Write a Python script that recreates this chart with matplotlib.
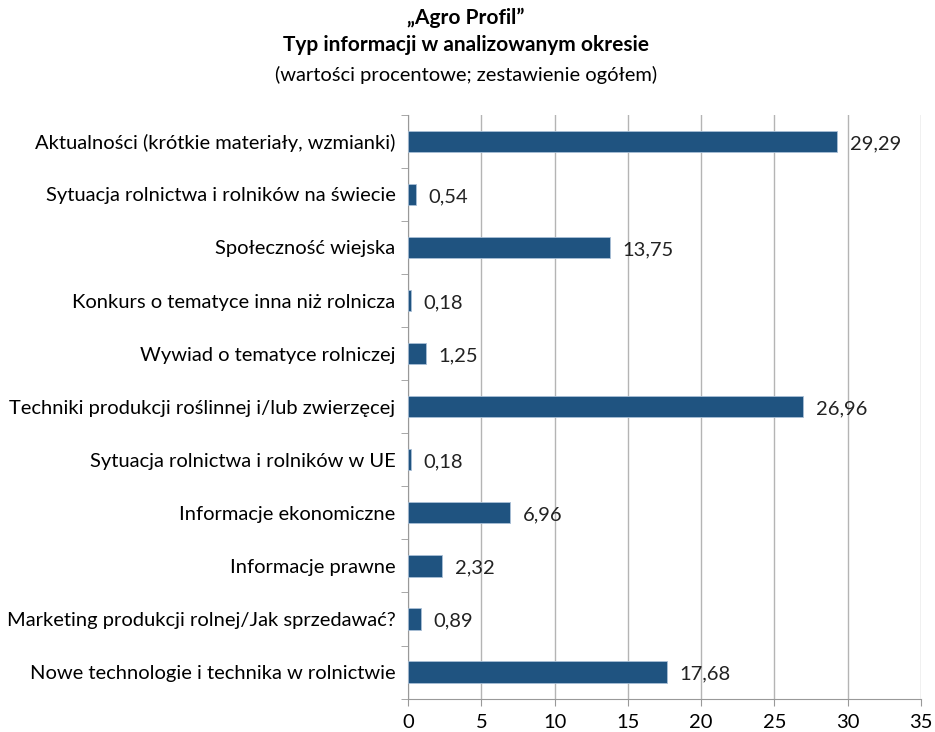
import numpy as np
import matplotlib.pyplot as plt

plt.rcParams['font.family'] = ['Lato', 'DejaVu Sans']

categories = [
    "Aktualności (krótkie materiały, wzmianki)",
    "Sytuacja rolnictwa i rolników na świecie",
    "Społeczność wiejska",
    "Konkurs o tematyce inna niż rolnicza",
    "Wywiad o tematyce rolniczej",
    "Techniki produkcji roślinnej i/lub zwierzęcej",
    "Sytuacja rolnictwa i rolników w UE",
    "Informacje ekonomiczne",
    "Informacje prawne",
    "Marketing produkcji rolnej/Jak sprzedawać?",
    "Nowe technologie i technika w rolnictwie",
]
values = [29.29, 0.54, 13.75, 0.18, 1.25, 26.96, 0.18, 6.96, 2.32, 0.89, 17.68]
xticks = [0, 5, 10, 15, 20, 25, 30, 35]

fig = plt.figure(figsize=(9.35, 7.32), dpi=100)
ax = fig.add_axes([0.4364, 0.0456, 0.985 - 0.4364, 0.8432 - 0.0456])

y = np.arange(len(categories))
ax.barh(y, values, height=0.40, color="#1F5380", edgecolor="#A9BFD6", linewidth=0.6, zorder=3)

for yi, v in zip(y, values):
    ax.annotate(f"{v:.2f}".replace(".", ","), (v, yi), xytext=(9, -1.5),
                textcoords="offset points", va="center", ha="left",
                fontsize=14.5, color="#222222")

ax.set_xlim(0, 35)
ax.set_ylim(len(categories) - 0.5, -0.5)
ax.set_xticks(xticks)
ax.set_xticklabels([str(t) for t in xticks], fontsize=14.5)
ax.set_yticks(y)
ax.set_yticklabels(categories, fontsize=14.5)
ax.set_yticks(np.arange(len(categories) + 1) - 0.5, minor=True)
ax.tick_params(axis="y", which="major", length=0, pad=9)
ax.tick_params(axis="y", which="minor", length=5, color="#999999")
ax.tick_params(axis="x", length=5, color="#999999", pad=6)
ax.grid(axis="x", color="#B4B4B4", linewidth=1, zorder=0)

for side in ["top", "right"]:
    ax.spines[side].set_visible(False)
ax.spines["left"].set_color("#999999")
ax.spines["bottom"].set_color("#999999")

fig.text(0.498, 0.975, "„Agro Profil”", ha="center", va="center", fontsize=15, fontweight="bold")
fig.text(0.498, 0.938, "Typ informacji w analizowanym okresie", ha="center", va="center",
         fontsize=15, fontweight="bold")
fig.text(0.498, 0.897, "(wartości procentowe; zestawienie ogółem)", ha="center", va="center",
         fontsize=14.5)

fig.savefig("out.png", dpi=100)
